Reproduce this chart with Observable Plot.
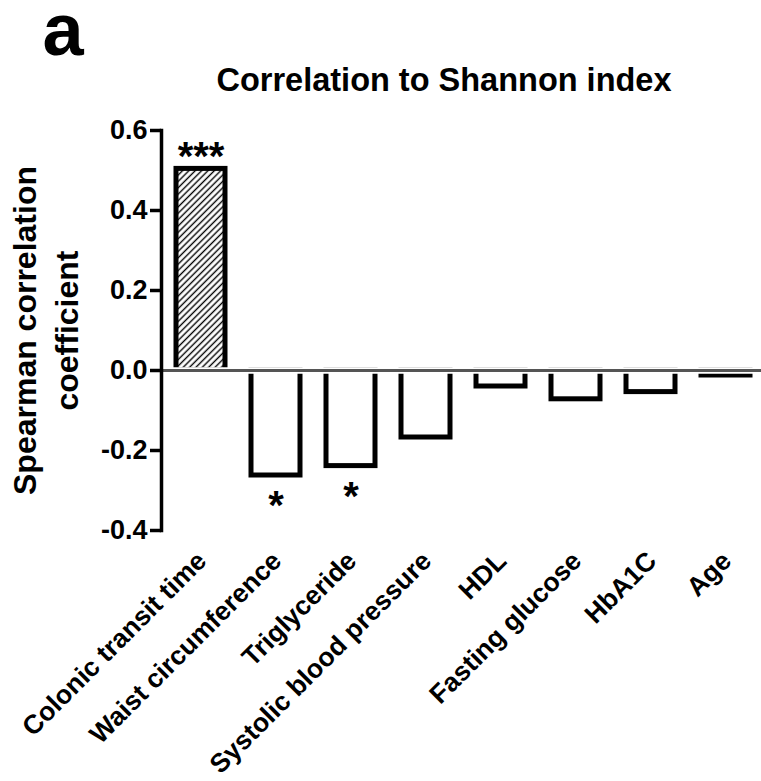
<!DOCTYPE html>
<html>
<head>
<meta charset="utf-8">
<script src="https://cdn.jsdelivr.net/npm/d3@7"></script>
<script src="https://cdn.jsdelivr.net/npm/@observablehq/plot@0.6"></script>
<style>
  html, body { margin: 0; padding: 0; background: #fff; }
  svg { display: block; }
</style>
</head>
<body>
<div id="chart"></div>
<script>
const categories = ["Colonic transit time", "Waist circumference", "Triglyceride", "Systolic blood pressure", "HDL", "Fasting glucose", "HbA1C", "Age"];
const rho = [0.504, -0.2625, -0.239, -0.1675, -0.04, -0.072, -0.054, -0.0125];
const significance = ["***", "*", "*", "", "", "", "", ""];
const yTicks = [-0.4, -0.2, 0, 0.2, 0.4, 0.6];
const titleText = "Correlation to Shannon index";
const yLabel = "Spearman correlation\ncoefficient";
const panelLetter = "a";

const data = categories.map((c, i) => ({category: c, value: rho[i], sig: significance[i]}));
const font = '"Liberation Sans", Arial, Helvetica, sans-serif';

const chart = Plot.plot({
  width: 761,
  height: 781,
  marginTop: 130,
  marginBottom: 251,
  marginLeft: 161,
  marginRight: 0,
  style: {fontFamily: font, background: "white", overflow: "visible", color: "black"},
  x: {domain: categories, range: [161, 765], paddingInner: 0.35, paddingOuter: 0.19, axis: null},
  y: {domain: [-0.4, 0.6], axis: null},
  marks: [
    Plot.barY(data, {x: "category", y: "value", fill: "white", stroke: "black", strokeWidth: 5}),
    Plot.ruleY([0], {stroke: "white", strokeWidth: 6.5}),
    Plot.ruleY([0], {stroke: "#555", strokeWidth: 3}),
    Plot.frame({anchor: "left", stroke: "black", strokeWidth: 3.5}),
    Plot.axisY({ticks: yTicks, tickFormat: d => d.toFixed(1), tickSize: 11, tickPadding: 3, fontSize: 27, fontWeight: "bold", strokeWidth: 3.5, label: null, fill: "black", stroke: "black"}),
    Plot.text(data, {x: "category", text: "category", frameAnchor: "bottom", rotate: -45, textAnchor: "end", lineAnchor: "middle", dx: 1, dy: 26, fontSize: 26.5, fontWeight: "bold", fill: "black"}),
    Plot.text(data.filter(d => d.sig && d.value > 0), {x: "category", y: "value", text: "sig", lineAnchor: "middle", dy: -12, fontSize: 40, fontWeight: "bold", fill: "black"}),
    Plot.text(data.filter(d => d.sig && d.value < 0), {x: "category", y: "value", text: "sig", lineAnchor: "middle", dy: 31, fontSize: 40, fontWeight: "bold", fill: "black"}),
    Plot.text([yLabel], {frameAnchor: "left", text: d => d, rotate: -90, textAnchor: "middle", lineAnchor: "middle", lineHeight: 1.33, dx: -118, fontSize: 32, fontWeight: "bold", fill: "black"}),
    Plot.text([titleText], {frameAnchor: "top", text: d => d, textAnchor: "middle", lineAnchor: "bottom", dx: -17.5, dy: -40, fontSize: 32.5, fontWeight: "bold", fill: "black"}),
    Plot.text([panelLetter], {frameAnchor: "top-left", text: d => d, textAnchor: "start", lineAnchor: "bottom", dx: -119, dy: -76, fontSize: 74, fontWeight: "bold", fill: "black"})
  ]
});

const svg = d3.select(chart);
const defs = svg.insert("defs", ":first-child");
const pat = defs.append("pattern")
  .attr("id", "hatch")
  .attr("patternUnits", "userSpaceOnUse")
  .attr("width", 4.5)
  .attr("height", 4.5)
  .attr("patternTransform", "rotate(45)");
pat.append("rect").attr("width", 4.5).attr("height", 4.5).attr("fill", "white");
pat.append("line").attr("x1", 2.25).attr("y1", -1).attr("x2", 2.25).attr("y2", 5.5).attr("stroke", "black").attr("stroke-width", 1.4);
svg.select('g[aria-label="bar"] rect').attr("fill", "url(#hatch)");

document.getElementById("chart").appendChild(chart);
</script>
</body>
</html>
